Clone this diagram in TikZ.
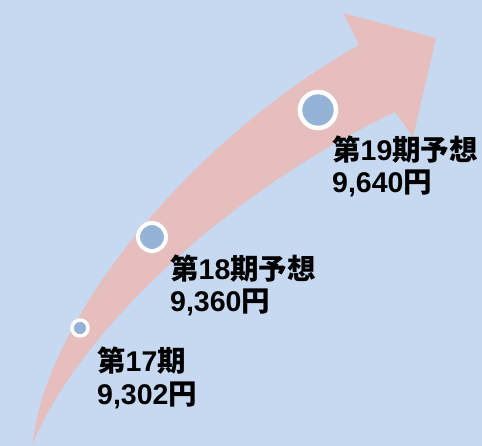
\documentclass[tikz,border=0pt]{standalone}
\usepackage{fontspec}
\setmainfont{Liberation Sans}
\newfontfamily\jp{Noto Sans CJK JP Bold}
\definecolor{bgblue}{HTML}{C6D9F1}
\definecolor{arrowpink}{HTML}{E6BEBD}
\definecolor{dotblue}{HTML}{95B3D7}
\begin{document}
\begin{tikzpicture}[x=1pt,y=-1pt,
  dot/.style={circle,fill=dotblue,draw=white,inner sep=0pt},
  lbl/.style={anchor=base west,inner sep=0pt,font=\fontsize{28.5}{32}\selectfont\bfseries,text=black}]
\fill[bgblue] (0,0) rectangle (482,446);
\useasboundingbox (0,0) rectangle (482,446);
% curved arrow
\fill[arrowpink] (33,443) .. controls (45,320) and (190,140) .. (359,45)
  -- (343,13) -- (436,38) -- (413,137) -- (395,112)
  .. controls (230,190) and (80,330) .. (33,443) -- cycle;
% dots
\node[dot,minimum size=16pt,line width=3.5pt] (d17) at (80,328) {};
\node[dot,minimum size=28pt,line width=4pt] (d18) at (152,237) {};
\node[dot,minimum size=36pt,line width=4.5pt] (d19) at (318,110) {};
% labels
\node[lbl] (t17a) at (97,371) {{\jp 第}17{\jp 期}};
\node[lbl] (t17b) at (97,404) {9,302{\jp 円}};
\node[lbl] (t18a) at (170,280) {{\jp 第}18{\jp 期予想}};
\node[lbl] (t18b) at (170,312) {9,360{\jp 円}};
\node[lbl] (t19a) at (332,161) {{\jp 第}19{\jp 期予想}};
\node[lbl] (t19b) at (332,193) {9,640{\jp 円}};
\end{tikzpicture}
\end{document}
